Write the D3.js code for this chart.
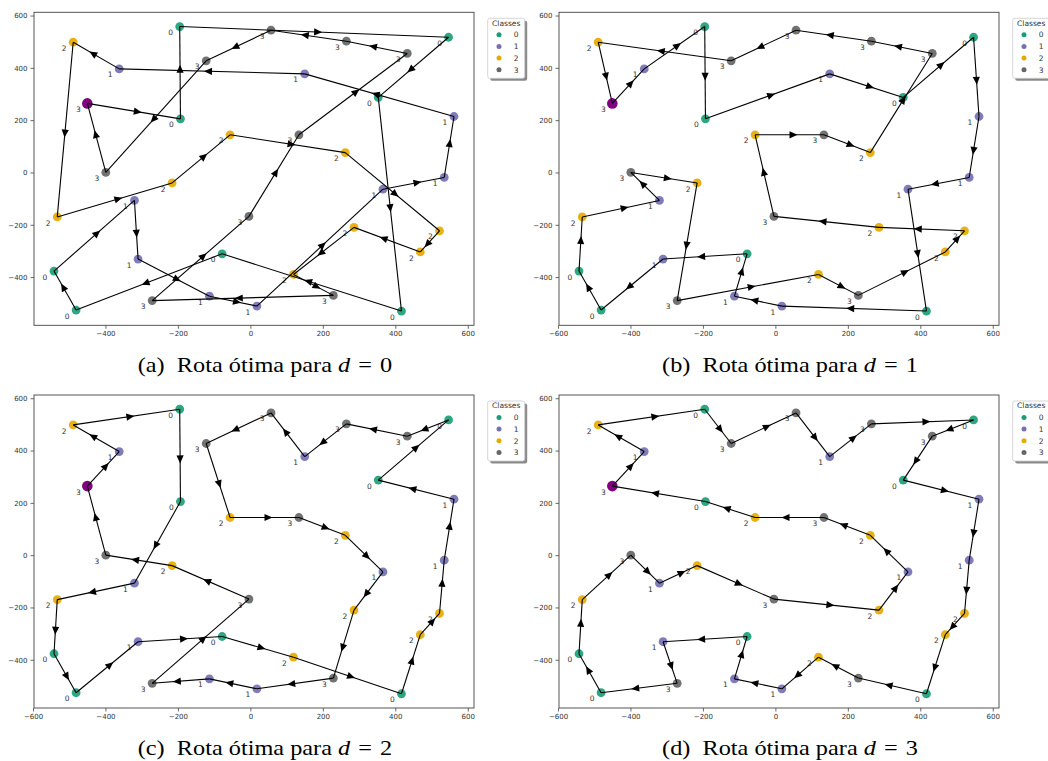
<!DOCTYPE html>
<html>
<head>
<meta charset="utf-8">
<script src="https://cdn.jsdelivr.net/npm/d3@7"></script>
<style>
  body { margin: 0; background: #fff; }
  svg { display: block; }
</style>
</head>
<body>
<svg id="fig" width="1048" height="761"></svg>
<script>
// customers (index 0 is the depot)
const pointX = [-450, -362, -489, -195, -122, -193, -56, -399, -216, -320, -533, -4, -78, -310, -542, -113, -271, -481,
                18, 57, 265, 433, 547, 150, 353, 562, 134, 262, 535, 366, 286, 522, 469, 119, 229, 417];
const pointY = [264, 396, 498, 558, 427, 205, 144, 0, -40, -107, -170, -168, -311, -331, -377, -473, -490, -526,
                -511, 544, 502, 455, 517, 377, 287, 214, 144, 76, -19, -64, -210, -223, -304, -390, -470, -530];
const pointClass = [3, 1, 2, 0, 3, 0, 2, 3, 2, 1, 2, 3, 0, 1, 0, 1, 3, 0,
                    1, 3, 3, 3, 0, 1, 0, 1, 3, 2, 1, 1, 2, 2, 2, 2, 3, 0];

// visiting order for each d
const routeD0 = [0, 5, 3, 22, 24, 35, 12, 17, 14, 9, 13, 15, 18, 29, 28, 25, 23, 1, 2, 10, 8, 6, 27, 31, 32, 30, 33, 34, 16, 11, 26, 21, 20, 19, 4, 7, 0];
const routeD1 = [0, 1, 3, 5, 23, 24, 22, 25, 28, 29, 35, 18, 15, 12, 13, 17, 14, 10, 9, 7, 8, 16, 33, 34, 32, 31, 30, 11, 6, 26, 27, 21, 20, 19, 4, 2, 0];
const routeD2 = [0, 1, 2, 3, 5, 9, 10, 14, 17, 13, 12, 33, 35, 32, 31, 28, 25, 24, 22, 21, 20, 23, 19, 4, 6, 26, 27, 29, 30, 34, 18, 15, 16, 11, 8, 7, 0];
const routeD3 = [0, 1, 2, 3, 4, 19, 23, 20, 22, 21, 24, 25, 28, 31, 32, 35, 34, 33, 18, 15, 12, 13, 16, 17, 14, 10, 7, 9, 8, 11, 30, 29, 27, 26, 6, 5, 0];

const classLabels = ["0", "1", "2", "3"];
const classColors = ["#1b9e77", "#7570b3", "#e6ab02", "#666666"];
const depotColor = "#800080";

const xTicksFull = [-600, -400, -200, 0, 200, 400, 600];
const xTicksShort = [-400, -200, 0, 200, 400, 600];
const yTicks = [-400, -200, 0, 200, 400, 600];

const captionLetters = ["a", "b", "c", "d"];
const captionD = ["0", "1", "2", "3"];

const svg = d3.select("#fig");
const W = 440, H = 313;

// panel boxes on the page
const panels = [
  { left: 34,  top: 12.3, route: routeD0, ticks: xTicksShort, capY: 371.5 },
  { left: 559, top: 12.3, route: routeD1, ticks: xTicksFull,  capY: 371.5 },
  { left: 34,  top: 395,  route: routeD2, ticks: xTicksFull,  capY: 755 },
  { left: 559, top: 395,  route: routeD3, ticks: xTicksFull,  capY: 755 }
];

const nodes = pointX.map((x, i) => ({ x: x, y: pointY[i], c: pointClass[i], depot: i === 0 }));

function padded(ext) {
  const p = (ext[1] - ext[0]) * 0.05;
  return [ext[0] - p, ext[1] + p];
}
const xScale = d3.scaleLinear().domain(padded(d3.extent(pointX))).range([0, W]);
const yScale = d3.scaleLinear().domain(padded(d3.extent(pointY))).range([H, 0]);

panels.forEach((p, k) => {
  const g = svg.append("g").attr("transform", `translate(${p.left},${p.top})`);

  // axes
  const ax = g.append("g").attr("transform", `translate(0,${H})`)
    .call(d3.axisBottom(xScale).tickValues(p.ticks).tickSize(3.5).tickPadding(2.5));
  const ay = g.append("g")
    .call(d3.axisLeft(yScale).tickValues(yTicks).tickSize(3.5).tickPadding(3));
  [ax, ay].forEach(a => {
    a.select(".domain").remove();
    a.selectAll("line").attr("stroke", "#444").attr("stroke-width", 0.8);
    a.selectAll("text").attr("fill", "#333").style("font-family", "DejaVu Sans").style("font-size", "7px");
  });

  // scatter
  g.append("g").selectAll("circle")
    .data(nodes)
    .join("circle")
    .attr("cx", d => xScale(d.x))
    .attr("cy", d => yScale(d.y))
    .attr("r", d => d.depot ? 5.3 : 4.4)
    .attr("fill", d => d.depot ? depotColor : classColors[d.c])
    .attr("fill-opacity", d => d.depot ? 1 : 0.92);

  g.append("g").selectAll("text")
    .data(nodes)
    .join("text")
    .attr("x", d => xScale(d.x) - 9)
    .attr("y", d => yScale(d.y) + 8.6)
    .attr("text-anchor", "middle")
    .attr("fill", "#333")
    .style("font-family", "DejaVu Sans")
    .style("font-size", "7.5px")
    .text(d => classLabels[d.c]);

  // route segments with a head at the middle of each one
  const legs = d3.pairs(p.route).map(([a, b]) => ({ a: nodes[a], b: nodes[b] }));
  g.append("g").selectAll("line")
    .data(legs)
    .join("line")
    .attr("x1", d => xScale(d.a.x)).attr("y1", d => yScale(d.a.y))
    .attr("x2", d => xScale(d.b.x)).attr("y2", d => yScale(d.b.y))
    .attr("stroke", "#000")
    .attr("stroke-width", 1.1);

  g.append("g").selectAll("path")
    .data(legs)
    .join("path")
    .attr("fill", "#000")
    .attr("d", d => {
      const x1 = xScale(d.a.x), y1 = yScale(d.a.y), x2 = xScale(d.b.x), y2 = yScale(d.b.y);
      const len = Math.hypot(x2 - x1, y2 - y1);
      const ux = (x2 - x1) / len, uy = (y2 - y1) / len;
      const mx = (x1 + x2) / 2, my = (y1 + y2) / 2;
      const hl = 8, hw = 3.6;
      return `M${mx + ux * hl},${my + uy * hl}L${mx - uy * hw},${my + ux * hw}L${mx + uy * hw},${my - ux * hw}Z`;
    });

  // frame
  g.append("rect")
    .attr("width", W).attr("height", H)
    .attr("fill", "none").attr("stroke", "#444").attr("stroke-width", 0.9);

  // legend
  const lg = g.append("g").attr("transform", `translate(${W + 13.7},6)`);
  lg.append("rect").attr("x", 2.5).attr("y", 2.5).attr("width", 37).attr("height", 60).attr("rx", 2).attr("fill", "#8a8a8a");
  lg.append("rect").attr("width", 37).attr("height", 60).attr("rx", 2)
    .attr("fill", "#fff").attr("stroke", "#ccc").attr("stroke-width", 0.8);
  lg.append("text").attr("x", 18.5).attr("y", 7.3).attr("text-anchor", "middle")
    .attr("fill", "#333").style("font-family", "DejaVu Sans").style("font-size", "7.5px").text("Classes");
  const items = lg.selectAll("g.item").data(classLabels).join("g").attr("class", "item")
    .attr("transform", (d, i) => `translate(0,${16.4 + i * 11.7})`);
  items.append("circle").attr("cx", 11.3).attr("cy", 0).attr("r", 2.5)
    .attr("fill", (d, i) => classColors[i]);
  items.append("text").attr("x", 26).attr("y", 2.7)
    .attr("fill", "#333").style("font-family", "DejaVu Sans").style("font-size", "7.5px").text(d => d);

  // caption (the scanned captions are a little wider than the font)
  const cap = svg.append("text")
    .attr("transform", `translate(${p.left + 231},${p.capY}) scale(1.13,1)`)
    .attr("text-anchor", "middle")
    .style("font-family", "Liberation Serif").style("font-size", "21.5px")
    .attr("fill", "#000");
  cap.append("tspan").text(`(${captionLetters[k]})\u2002Rota ótima para `);
  cap.append("tspan").style("font-style", "italic").text("d");
  cap.append("tspan").text(`\u2004=\u2004${captionD[k]}`);
});
</script>
</body>
</html>
